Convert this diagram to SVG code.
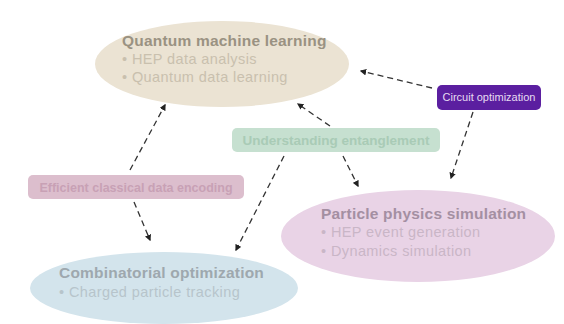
<svg xmlns="http://www.w3.org/2000/svg" width="564" height="324" viewBox="0 0 564 324">
  <defs>
    <marker id="arrow" viewBox="0 0 10 10" refX="8" refY="5" markerWidth="5" markerHeight="5" orient="auto-start-reverse">
      <path d="M0,0 L10,5 L0,10 z" fill="#222"/>
    </marker>
  </defs>
  <style>
    text { font-family: "Liberation Sans", Arial, sans-serif; }
    .title { font-size: 15.5px; font-weight: bold; letter-spacing: 0.2px; }
    .item { font-size: 14.5px; letter-spacing: 0.4px; }
    .edge { stroke: #333; stroke-width: 1.3; stroke-dasharray: 6 4; fill: none; marker-end: url(#arrow); }
    .tag { font-weight: bold; text-anchor: middle; }
    .tag-plain { font-size: 11px; text-anchor: middle; }
  </style>
  <rect width="564" height="324" fill="#ffffff"/>

  <!-- connectors -->
  <g id="connectors">
    <line class="edge" x1="130" y1="170" x2="165" y2="105"/>
    <line class="edge" x1="330" y1="126" x2="298" y2="104"/>
    <line class="edge" x1="432" y1="88" x2="361" y2="71"/>
    <line class="edge" x1="473" y1="112" x2="451" y2="178"/>
    <line class="edge" x1="343" y1="156" x2="358" y2="186"/>
    <line class="edge" x1="134" y1="202" x2="150" y2="240"/>
    <line class="edge" x1="284" y1="156" x2="236" y2="250"/>
  </g>

  <!-- topic nodes -->
  <g id="qml">
    <ellipse cx="222" cy="64" rx="127" ry="43" fill="#ebe3d3"/>
    <text class="title" x="122" y="46" fill="#9a9282">Quantum machine learning</text>
    <text class="item" x="122" y="64" fill="#c9c0ae">•  HEP data analysis</text>
    <text class="item" x="122" y="82" fill="#c9c0ae">•  Quantum data learning</text>
  </g>

  <g id="physics">
    <ellipse cx="418" cy="236" rx="137" ry="46" fill="#e9d3e6"/>
    <text class="title" x="321" y="219" fill="#a48fa2">Particle physics simulation</text>
    <text class="item" x="321" y="237" fill="#c9b6c7">•  HEP event generation</text>
    <text class="item" x="321" y="256" fill="#c9b6c7">•  Dynamics simulation</text>
  </g>

  <g id="combinatorial">
    <ellipse cx="164" cy="288" rx="134" ry="36" fill="#d3e4ec"/>
    <text class="title" x="59" y="278" fill="#9ea8ae">Combinatorial optimization</text>
    <text class="item" x="59" y="297" fill="#b7c4cb">•  Charged particle tracking</text>
  </g>

  <!-- technique tags -->
  <g id="circuit">
    <rect x="437" y="85" width="104" height="25" rx="5" fill="#5b1fa0"/>
    <text class="tag-plain" x="489" y="101" fill="#e6dcf2">Circuit optimization</text>
  </g>

  <g id="entanglement">
    <rect x="232" y="128" width="208" height="24" rx="5" fill="#c6e0d0"/>
    <text class="tag" x="336" y="145" font-size="13.5" fill="#a9cbb6">Understanding entanglement</text>
  </g>

  <g id="encoding">
    <rect x="28" y="175" width="216" height="24" rx="5" fill="#dcbecd"/>
    <text class="tag" x="136" y="191.5" font-size="12.5" fill="#c8a1b5">Efficient classical data encoding</text>
  </g>
</svg>
